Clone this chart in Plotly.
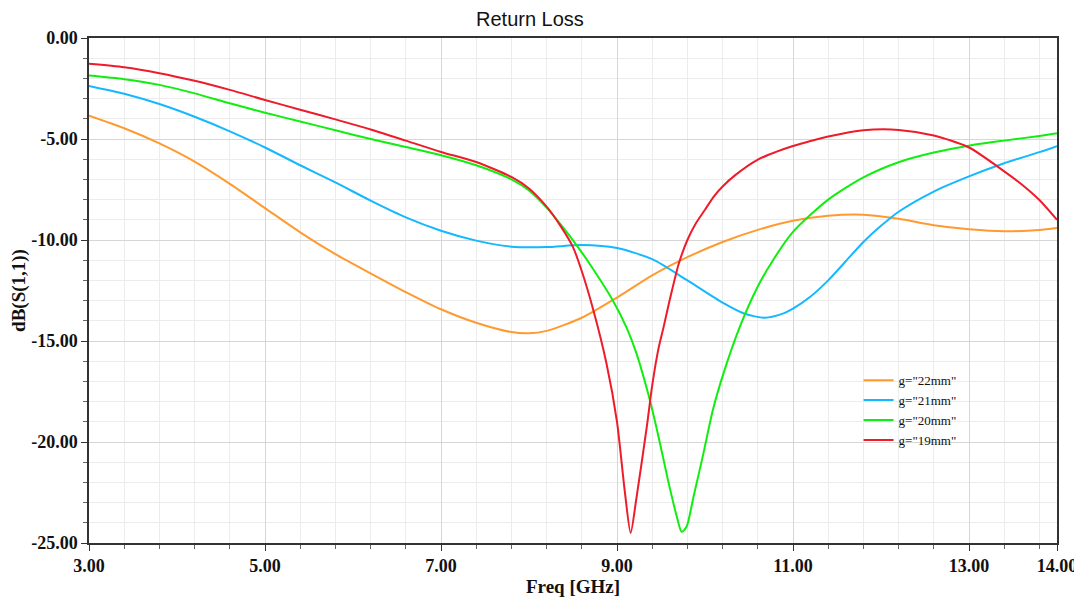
import plotly.graph_objects as go

# g = 22 mm
freq_22 = [3.0, 3.4, 3.8, 4.2, 4.6, 5.0, 5.4, 5.8, 6.2, 6.6, 7.0, 7.4, 7.8, 8.0, 8.2, 8.6, 9.0, 9.4, 9.8,
           10.2, 10.6, 11.0, 11.4, 11.8, 12.2, 12.6, 13.0, 13.4, 13.8, 14.0]
db_22 = [-3.85, -4.47, -5.22, -6.12, -7.22, -8.42, -9.62, -10.7, -11.65, -12.58, -13.43, -14.1, -14.56, -14.62,
         -14.5, -13.85, -12.85, -11.75, -10.85, -10.1, -9.5, -9.05, -8.8, -8.75, -8.95, -9.27, -9.47, -9.57,
         -9.5, -9.4]

# g = 21 mm
freq_21 = [3.0, 3.4, 3.8, 4.2, 4.6, 5.0, 5.4, 5.8, 6.2, 6.6, 7.0, 7.4, 7.8, 8.2, 8.6, 9.0, 9.4, 9.8, 10.2,
           10.45, 10.68, 10.9, 11.0, 11.2, 11.4, 11.6, 11.8, 12.0, 12.2, 12.6, 13.0, 13.4, 13.8, 14.0]
db_21 = [-2.37, -2.76, -3.27, -3.9, -4.62, -5.42, -6.3, -7.15, -8.05, -8.88, -9.54, -10.03, -10.33, -10.35,
         -10.25, -10.4, -10.95, -12.0, -13.1, -13.65, -13.85, -13.62, -13.4, -12.8, -12.0, -11.05, -10.1,
         -9.3, -8.6, -7.6, -6.85, -6.2, -5.65, -5.35]

# g = 20 mm
freq_20 = [3.0, 3.4, 3.8, 4.2, 4.6, 5.0, 5.4, 5.8, 6.2, 6.6, 7.0, 7.4, 7.8, 8.0, 8.2, 8.4, 8.54, 8.7, 8.94,
           9.11, 9.22, 9.36, 9.47, 9.58, 9.68, 9.735, 9.79, 9.87, 9.98, 10.09, 10.21, 10.4, 10.6, 10.78,
           11.0, 11.4, 11.8, 12.2, 12.6, 13.0, 13.4, 13.8, 14.0]
db_20 = [-1.86, -2.04, -2.32, -2.74, -3.23, -3.7, -4.13, -4.57, -5.0, -5.4, -5.8, -6.3, -7.0, -7.55, -8.4,
         -9.45, -10.25, -11.25, -12.9, -14.35, -15.6, -17.7, -19.7, -21.9, -23.7, -24.45, -24.2, -22.7, -20.6,
         -18.4, -16.6, -14.25, -12.3, -10.95, -9.6, -8.0, -6.9, -6.15, -5.67, -5.33, -5.08, -4.85, -4.72]

# g = 19 mm
freq_19 = [3.0, 3.4, 3.8, 4.2, 4.6, 5.0, 5.4, 5.8, 6.2, 6.6, 7.0, 7.4, 7.8, 8.0, 8.2, 8.35, 8.5, 8.6, 8.73,
           8.88, 9.0, 9.09, 9.155, 9.22, 9.34, 9.4, 9.47, 9.53, 9.6, 9.7, 9.8, 9.9, 10.0, 10.1, 10.2, 10.34,
           10.6, 10.8, 11.0, 11.2, 11.4, 11.8, 12.2, 12.6, 13.0, 13.4, 13.6, 13.8, 14.0]
db_19 = [-1.28, -1.45, -1.74, -2.12, -2.57, -3.07, -3.55, -4.03, -4.53, -5.08, -5.64, -6.14, -6.88, -7.45,
         -8.35, -9.25, -10.35, -11.55, -13.45, -16.1, -19.0, -22.5, -24.5, -22.8, -19.2, -17.2, -15.4, -14.3,
         -12.95, -11.2, -10.0, -9.15, -8.5, -7.85, -7.35, -6.8, -6.02, -5.65, -5.35, -5.1, -4.88, -4.57, -4.55,
         -4.83, -5.42, -6.6, -7.25, -8.02, -9.0]

series_names = ['g="22mm"', 'g="21mm"', 'g="20mm"', 'g="19mm"']
series_colors = ["#FF9A30", "#14B8FF", "#10EE10", "#EE1C2A"]

x_tickvals = [3, 5, 7, 9, 11, 13, 14]
x_ticktext = ["3.00", "5.00", "7.00", "9.00", "11.00", "13.00", "14.00"]
y_tickvals = [0, -5, -10, -15, -20, -25]
y_ticktext = ["0.00", "-5.00", "-10.00", "-15.00", "-20.00", "-25.00"]

fig = go.Figure()
for fx, fy, name, col in zip([freq_22, freq_21, freq_20, freq_19],
                             [db_22, db_21, db_20, db_19], series_names, series_colors):
    fig.add_trace(go.Scatter(x=fx, y=fy, mode="lines", name=name,
                             line=dict(color=col, width=2, shape="spline", smoothing=0.7)))

serif = "Liberation Serif, Times New Roman, serif"
fig.update_layout(
    width=1074, height=598,
    margin=dict(l=81, r=25, t=30, b=63),
    paper_bgcolor="white", plot_bgcolor="white",
    title=dict(text="Return Loss", x=0.486, xanchor="center", xref="container",
               y=0.994, yref="container", yanchor="top", pad=dict(t=0, b=0),
               font=dict(family="Liberation Sans, Arial, sans-serif", size=20, color="#111")),
    showlegend=True,
    legend=dict(x=0.795, y=0.352, xanchor="left", yanchor="top", bgcolor="rgba(255,255,255,0)",
                font=dict(family=serif, size=13, color="#111"), tracegroupgap=0, itemwidth=30),
)
fig.update_xaxes(
    range=[3, 14], tickvals=x_tickvals, ticktext=["<b>%s</b>" % t for t in x_ticktext],
    tickfont=dict(family=serif, size=18, color="#111"), automargin=False,
    title=dict(text="<b>Freq [GHz]</b>", font=dict(family=serif, size=19, color="#111"), standoff=2),
    showline=True, linecolor="#333", linewidth=1.5, mirror=True,
    ticks="outside", ticklen=6, tickcolor="#333",
    showgrid=True, gridcolor="#d6d6d6", gridwidth=1, zeroline=False,
    minor=dict(tick0=3, dtick=0.4, ticks="outside", ticklen=4, tickcolor="#666",
               showgrid=True, gridcolor="#ececec", gridwidth=1),
)
fig.update_yaxes(
    range=[-25, 0], tickvals=y_tickvals, ticktext=["<b>%s</b>" % t for t in y_ticktext],
    tickfont=dict(family=serif, size=18, color="#111"), automargin=False,
    title=dict(text="<b>dB(S(1,1))</b>", font=dict(family=serif, size=19, color="#111"), standoff=2),
    showline=True, linecolor="#333", linewidth=1.5, mirror=True,
    ticks="outside", ticklen=6, tickcolor="#333",
    showgrid=True, gridcolor="#d6d6d6", gridwidth=1, zeroline=False,
    minor=dict(tick0=0, dtick=1, ticks="outside", ticklen=4, tickcolor="#666",
               showgrid=True, gridcolor="#ececec", gridwidth=1),
)

fig.write_html("out.html")
